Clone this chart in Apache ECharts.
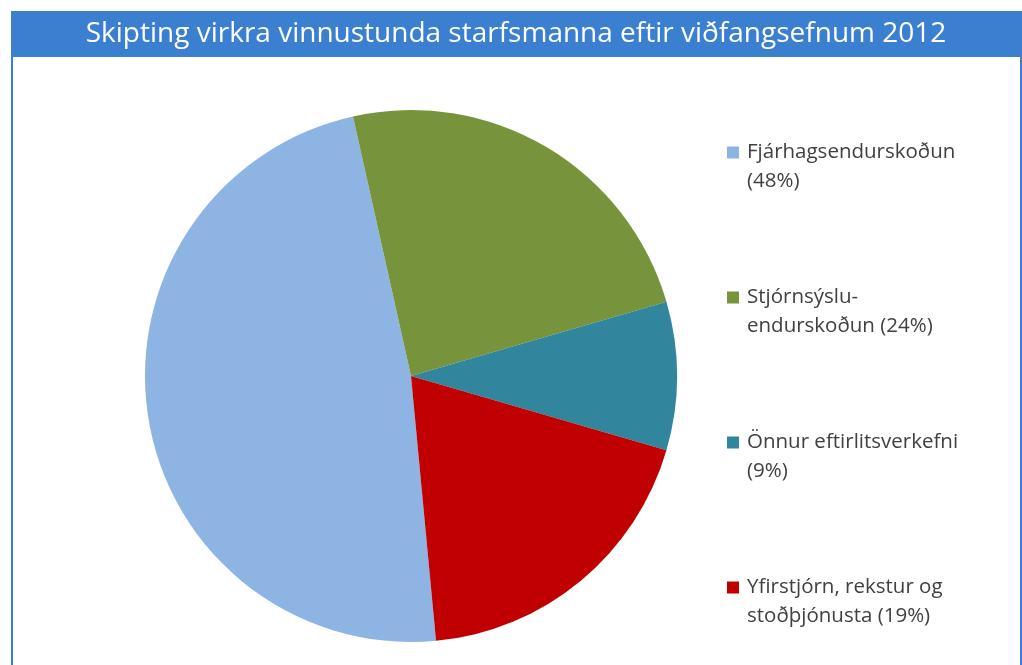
<!DOCTYPE html>
<html>
<head>
<meta charset="utf-8">
<script src="https://cdn.jsdelivr.net/npm/echarts@6/dist/echarts.min.js"></script>
<style>
html,body{margin:0;padding:0;background:#fff;}
#chart{width:1022px;height:665px;}
</style>
</head>
<body>
<div id="chart"></div>
<script>
var titleText = 'Skipting virkra vinnustunda starfsmanna eftir viðfangsefnum 2012';
var categories = ['Fjárhagsendurskoðun', 'Stjórnsýslu-endurskoðun', 'Önnur eftirlitsverkefni', 'Yfirstjórn, rekstur og stoðþjónusta'];
var legendLabels = ['Fjárhagsendurskoðun\n(48%)', 'Stjórnsýslu-\nendurskoðun (24%)', 'Önnur eftirlitsverkefni\n(9%)', 'Yfirstjórn, rekstur og\nstoðþjónusta (19%)'];
var values = [48, 24, 9, 19];
var colors = ['#8EB4E3', '#77933C', '#31859C', '#C00000'];

var chart = echarts.init(document.getElementById('chart'));
var labelMap = {};
categories.forEach(function (c, i) { labelMap[c] = legendLabels[i]; });

chart.setOption({
  animation: false,
  backgroundColor: '#ffffff',
  graphic: [
    { type: 'rect', shape: { x: 12, y: 12, width: 1009, height: 700 }, style: { fill: 'none', stroke: '#3A7FD0', lineWidth: 2 }, z: 0 },
    { type: 'rect', shape: { x: 11, y: 11, width: 1011, height: 46 }, style: { fill: '#3A7FD0' }, z: 1 }
  ],
  title: {
    text: titleText,
    left: 516, top: 34, textAlign: 'center', textVerticalAlign: 'middle',
    padding: 0,
    textStyle: { color: '#ffffff', fontFamily: 'Open Sans', fontSize: 28, fontWeight: 'normal' },
    z: 5
  },
  legend: {
    orient: 'vertical',
    left: 727, top: 109, height: 556,
    padding: 0,
    icon: 'rect', itemWidth: 12, itemHeight: 12,
    itemGap: 58,
    data: categories,
    formatter: function (n) { return '\n' + labelMap[n]; },
    textStyle: { fontFamily: 'Open Sans', fontSize: 20.5, color: '#404040', lineHeight: 29, padding: [0, 0, 0, 3] },
    selectedMode: false
  },
  series: [{
    type: 'pie',
    center: [411, 376], radius: 266,
    startAngle: 275.4,
    clockwise: true,
    label: { show: false }, labelLine: { show: false },
    emphasis: { disabled: true },
    itemStyle: { borderWidth: 0 },
    data: categories.map(function (c, i) { return { name: c, value: values[i], itemStyle: { color: colors[i] } }; })
  }]
});
</script>
</body>
</html>
